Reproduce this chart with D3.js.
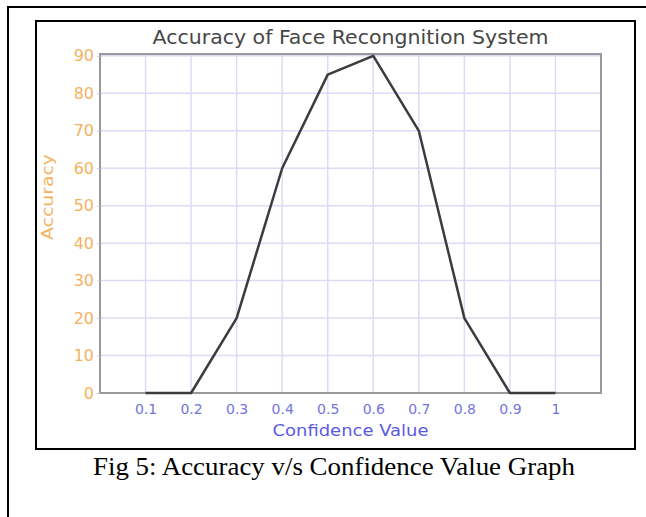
<!DOCTYPE html>
<html>
<head>
<meta charset="utf-8">
<script src="https://cdn.jsdelivr.net/npm/d3@7"></script>
<style>
    body { margin: 0; background: #fff; }
    svg { display: block; }
</style>
</head>
<body>
<svg id="chart" width="646" height="517"></svg>
<script>

// chart data
var confidence = [0.1, 0.2, 0.3, 0.4, 0.5, 0.6, 0.7, 0.8, 0.9, 1.0];
var accuracy = [0, 0, 20, 60, 85, 90, 70, 20, 0, 0];
var x_ticks = [0.1, 0.2, 0.3, 0.4, 0.5, 0.6, 0.7, 0.8, 0.9, 1];
var y_ticks = [0, 10, 20, 30, 40, 50, 60, 70, 80, 90];

var svg = d3.select("#chart");

// outer page frame and inner figure frame
svg.append("rect")
    .attr("x", 8).attr("y", 7).attr("width", 660).attr("height", 540)
    .attr("fill", "none").attr("stroke", "#000").attr("stroke-width", 2);
svg.append("rect")
    .attr("x", 36).attr("y", 21).attr("width", 599).attr("height", 428)
    .attr("fill", "#fff").attr("stroke", "#000").attr("stroke-width", 2);

// plot area bounds ("top" is a reserved window global, so prefix them)
var p_left = 100, p_right = 601, p_top = 54, p_bottom = 393;
var x = d3.scaleLinear().domain([0, 1.1]).range([p_left, p_right]);
var y = d3.scaleLinear().domain([0, 90.5]).range([p_bottom, p_top]);

// grid
svg.append("g").selectAll("line").data(x_ticks).join("line")
    .attr("x1", d => x(d)).attr("x2", d => x(d))
    .attr("y1", p_top).attr("y2", p_bottom)
    .attr("stroke", "#dcdcf6").attr("stroke-width", 1.5);
svg.append("g").selectAll("line").data(y_ticks).join("line")
    .attr("x1", p_left).attr("x2", p_right)
    .attr("y1", d => y(d)).attr("y2", d => y(d))
    .attr("stroke", "#dcdcf6").attr("stroke-width", 1.5);

// plot frame
svg.append("rect")
    .attr("x", p_left).attr("y", p_top)
    .attr("width", p_right - p_left).attr("height", p_bottom - p_top)
    .attr("fill", "none").attr("stroke", "#999").attr("stroke-width", 2);

// axes (labels only, frame drawn above)
var yaxis = svg.append("g")
    .attr("transform", "translate(" + p_left + ",0)")
    .call(d3.axisLeft(y).tickValues(y_ticks).tickSize(3).tickPadding(3));
yaxis.select(".domain").remove();
yaxis.selectAll(".tick line").attr("stroke", "#c8c8c8");
yaxis.selectAll("text")
    .attr("fill", "#f5b25e")
    .style("font-family", "'DejaVu Sans', Verdana, sans-serif")
    .style("font-size", "16px");

var xaxis = svg.append("g")
    .attr("transform", "translate(0," + p_bottom + ")")
    .call(d3.axisBottom(x).tickValues(x_ticks).tickFormat(d3.format("")).tickSize(0).tickPadding(11));
xaxis.select(".domain").remove();
xaxis.selectAll("text")
    .attr("fill", "#7474de")
    .style("font-family", "'DejaVu Sans', Verdana, sans-serif")
    .style("font-size", "14px");

// data line
var line = d3.line()
    .x((d, i) => x(confidence[i]))
    .y(d => y(d));
svg.append("path")
    .datum(accuracy)
    .attr("d", line)
    .attr("fill", "none")
    .attr("stroke", "#3c3c3c")
    .attr("stroke-width", 2.5)
    .attr("stroke-linejoin", "round");

// titles
svg.append("text")
    .attr("x", (p_left + p_right) / 2).attr("y", 44)
    .attr("text-anchor", "middle")
    .attr("textLength", 396).attr("lengthAdjust", "spacingAndGlyphs")
    .attr("fill", "#464646")
    .style("font-family", "'DejaVu Sans', Verdana, sans-serif")
    .style("font-size", "19px")
    .text("Accuracy of Face Recongnition System");

svg.append("text")
    .attr("x", (p_left + p_right) / 2).attr("y", 436)
    .attr("text-anchor", "middle")
    .attr("textLength", 156).attr("lengthAdjust", "spacingAndGlyphs")
    .attr("fill", "#5a5ae4")
    .style("font-family", "'DejaVu Sans', Verdana, sans-serif")
    .style("font-size", "16px")
    .text("Confidence Value");

svg.append("text")
    .attr("transform", "translate(53,197) rotate(-90)")
    .attr("text-anchor", "middle")
    .attr("textLength", 86).attr("lengthAdjust", "spacingAndGlyphs")
    .attr("fill", "#f5b25e")
    .style("font-family", "'DejaVu Sans', Verdana, sans-serif")
    .style("font-size", "16px")
    .text("Accuracy");

// figure caption
svg.append("text")
    .attr("x", 334).attr("y", 475)
    .attr("text-anchor", "middle")
    .attr("textLength", 482).attr("lengthAdjust", "spacingAndGlyphs")
    .attr("fill", "#000")
    .style("font-family", "'Liberation Serif', 'Times New Roman', serif")
    .style("font-size", "25px")
    .text("Fig 5: Accuracy v/s Confidence Value Graph");

</script>
</body>
</html>
